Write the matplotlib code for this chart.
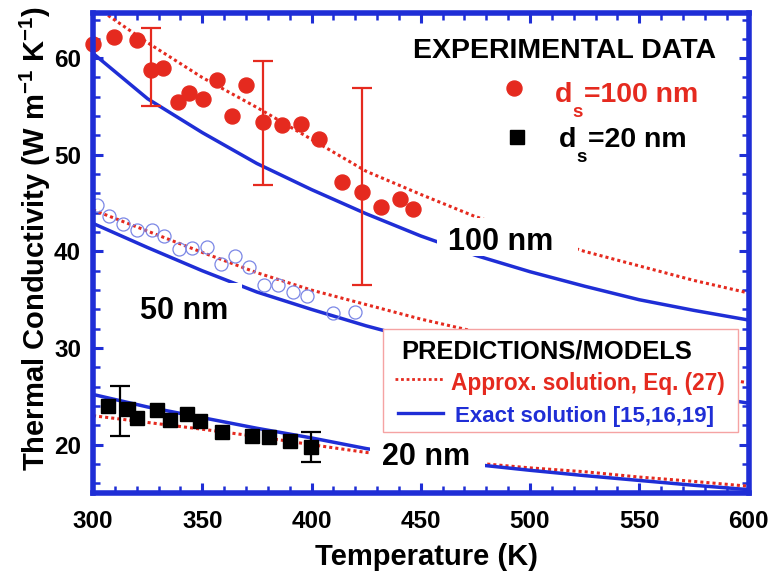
import matplotlib
matplotlib.use("Agg")
import matplotlib.pyplot as plt
from matplotlib.patches import Rectangle
from matplotlib.ticker import MultipleLocator

plt.rcParams['font.family'] = ['Liberation Sans', 'DejaVu Sans']
plt.rcParams['font.weight'] = 'bold'
plt.rcParams['mathtext.fontset'] = 'custom'
plt.rcParams['mathtext.rm'] = 'Liberation Sans:bold'
plt.rcParams['mathtext.bf'] = 'Liberation Sans:bold'
plt.rcParams['mathtext.it'] = 'Liberation Sans:bold'

BLUE = '#1f2ed6'
RED = '#e52a1f'
OPEN_BLUE = '#7b87e6'

# ---- model curves (temperature grid, K) ----
T_model = [300, 325, 350, 375, 400, 425, 450, 475, 500, 525, 550, 575, 600]
approx_100 = [65.5, 61.6, 58.0, 54.9, 51.6, 48.3, 45.9, 43.6, 41.8, 40.0, 38.5, 37.0, 35.7]
exact_100 = [60.5, 55.8, 52.3, 49.1, 46.4, 43.9, 41.6, 39.6, 37.9, 36.4, 35.0, 33.9, 32.9]
approx_50 = [44.3, 42.1, 39.9, 37.8, 36.0, 34.5, 33.0, 31.7, 30.4, 29.3, 28.2, 27.3, 26.4]
exact_50 = [42.9, 40.4, 38.0, 35.8, 34.0, 32.3, 30.8, 29.5, 28.3, 27.2, 26.1, 25.2, 24.3]
approx_20 = [23.0, 22.3, 21.6, 20.85, 20.0, 19.2, 18.6, 18.1, 17.6, 17.2, 16.65, 16.2, 15.7]
exact_20 = [25.2, 23.9, 22.8, 21.7, 20.7, 19.6, 18.7, 17.95, 17.35, 16.8, 16.3, 15.8, 15.35]

# ---- measurements ----
T_100 = [300, 309.6, 320, 326.5, 332, 339, 344, 350.3, 356.8, 363.6, 370, 377.8,
         386.5, 395, 403.4, 414, 423, 432, 440.5, 446.5]
k_100 = [61.5, 62.2, 61.9, 58.8, 59.0, 55.5, 56.4, 55.8, 57.7, 54.0, 57.2, 53.4,
         53.1, 53.2, 51.6, 47.2, 46.2, 44.6, 45.4, 44.4]
err_T_100 = [326.4, 377.7, 423.3]
err_k_100 = [59.05, 53.3, 46.7]
err_half_100 = [4.05, 6.4, 10.2]

T_50 = [301.7, 307.3, 313.6, 320, 326.9, 332.6, 339.4, 345.4, 352, 358.4, 365,
        371.4, 378.4, 384.8, 391.7, 397.8, 410, 419.9]
k_50 = [44.8, 43.7, 42.8, 42.2, 42.2, 41.6, 40.3, 40.4, 40.5, 38.7, 39.5,
        38.4, 36.5, 36.5, 35.8, 35.4, 33.6, 33.7]

T_20 = [306.7, 315.9, 320, 329.2, 335.2, 343.2, 349, 358.9, 372.6, 380.7, 390.2, 399.8]
k_20 = [24.0, 23.7, 22.8, 23.6, 22.6, 23.2, 22.4, 21.3, 20.9, 20.75, 20.4, 19.8]
err_T_20 = [312.4, 399.8]
err_k_20 = [23.5, 19.75]
err_half_20 = [2.6, 1.55]

W, H = 770, 571
fig = plt.figure(figsize=(W / 100, H / 100), dpi=100)
ax = fig.add_axes([93 / W, 1 - 493 / H, 655.5 / W, (493 - 12.75) / H])
ax.set_xlim(300, 600)
ax.set_ylim(15, 64.7)


def fpx(x, y):
    return x / W, 1 - y / H


# model curves
dot = dict(color=RED, lw=2.2, ls=(0, (1, 1)), dash_capstyle='butt', zorder=2)
sol = dict(color=BLUE, lw=2.5, ls='-', zorder=2)
for a, e in [(approx_100, exact_100), (approx_50, exact_50), (approx_20, exact_20)]:
    ax.plot(T_model, a, **dot)
    ax.plot(T_model, e, **sol)

# white masks behind the curve labels
for (x0, y0, x1, y1) in [(457.4, 39.5, 522.0, 43.5),
                         (316.0, 32.5, 368.2, 36.7),
                         (426.8, 16.8, 479.4, 21.2)]:
    ax.add_patch(Rectangle((x0, y0), x1 - x0, y1 - y0, fc='white', ec='none', zorder=3))

lab = dict(fontsize=22, fontweight='bold', color='black', ha='left', va='baseline', zorder=6)
ax.text(462.4, 40.1, '100 nm', **lab)
ax.text(321.5, 33.0, '50 nm', **lab)
ax.text(432.1, 17.9, '20 nm', **lab)

# measurements
ax.errorbar(err_T_100, err_k_100, yerr=err_half_100, fmt='none', ecolor=RED,
            elinewidth=1.6, capsize=7.2, capthick=1.6, zorder=4)
ax.plot(T_100, k_100, 'o', color=RED, ms=10.8, mec=RED, zorder=5, clip_on=False)
ax.plot(T_50, k_50, 'o', mfc='none', mec=OPEN_BLUE, mew=0.9, ms=9.4, zorder=5)
ax.errorbar(err_T_20, err_k_20, yerr=err_half_20, fmt='none', ecolor='black',
            elinewidth=1.6, capsize=7.2, capthick=1.6, zorder=4)
ax.plot(T_20, k_20, 's', color='black', ms=10.5, zorder=5)

# axes styling
for s in ax.spines.values():
    s.set_color(BLUE)
    s.set_linewidth(4)
    s.set_zorder(7)
ax.xaxis.set_major_locator(MultipleLocator(50))
ax.xaxis.set_minor_locator(MultipleLocator(10))
ax.yaxis.set_major_locator(MultipleLocator(10))
ax.yaxis.set_minor_locator(MultipleLocator(2))
ax.tick_params(which='both', direction='in', top=True, right=True, color=BLUE)
ax.tick_params(which='major', length=7.2, width=2.2)
ax.tick_params(which='minor', length=5, width=1.8)
ax.tick_params(axis='x', which='major', pad=12, labelsize=17.5)
ax.tick_params(axis='y', which='major', pad=8.6, labelsize=17.5)
for t in ax.get_xticklabels() + ax.get_yticklabels():
    t.set_fontweight('bold')

fig.text(*fpx(426.7, 565), 'Temperature (K)', fontsize=21, fontweight='bold',
         ha='center', va='baseline')
fig.text(*fpx(45, 238), r'Thermal Conductivity (W m$^{-1}$ K$^{-1}$)', fontsize=21,
         fontweight='bold', rotation=90, rotation_mode='anchor', ha='center', va='baseline')

# experimental data key
fig.text(*fpx(413.3, 58.3), 'EXPERIMENTAL DATA', fontsize=20.5, fontweight='bold',
         ha='left', va='baseline')
ax.plot(*fpx(514.3, 88.3), 'o', color=RED, ms=10.8, transform=fig.transFigure, clip_on=False)
ax.plot(*fpx(516.7, 136.7), 's', color='black', ms=10.5, transform=fig.transFigure, clip_on=False)
for (xd, yb, col, rest, xr) in [(555, 101.7, RED, '=100 nm', 584.5),
                                (559, 146.7, 'black', '=20 nm', 588)]:
    fig.text(*fpx(xd, yb), 'd', fontsize=20.5, fontweight='bold', color=col, va='baseline')
    fig.text(*fpx(xd + 17.0, yb + 15.5), 's', fontsize=13.5, fontweight='bold', color=col,
             va='baseline')
    fig.text(*fpx(xr, yb), rest, fontsize=20.5, fontweight='bold', color=col, va='baseline')

# models key box
x0, y0 = fpx(383.3, 431.7)
x1, y1 = fpx(738.3, 329.3)
fig.add_artist(Rectangle((x0, y0), x1 - x0, y1 - y0, transform=fig.transFigure,
                         fc='white', ec='#f5a3a3', lw=1.0, zorder=8))
fig.text(*fpx(401.7, 358.3), 'PREDICTIONS/MODELS', fontsize=18.4, fontweight='bold',
         ha='left', va='baseline', zorder=9)
xa, ya = fpx(395, 379)
xb, _ = fpx(445, 379)
fig.add_artist(plt.Line2D([xa, xb], [ya, ya], transform=fig.transFigure, color=RED, lw=2.0,
                          ls=(0, (1, 1)), dash_capstyle='butt', zorder=9))
fig.text(*fpx(450.7, 390), 'Approx. solution, Eq. (27)', fontsize=16.3, fontweight='bold',
         color=RED, ha='left', va='baseline', zorder=9)
xa, ya = fpx(398.3, 413.3)
xb, _ = fpx(443.3, 413.3)
fig.add_artist(plt.Line2D([xa, xb], [ya, ya], transform=fig.transFigure, color=BLUE, lw=2.4,
                          zorder=9))
fig.text(*fpx(455, 421.7), 'Exact solution [15,16,19]', fontsize=16, fontweight='bold',
         color=BLUE, ha='left', va='baseline', zorder=9)

fig.savefig('out.png', dpi=100)
